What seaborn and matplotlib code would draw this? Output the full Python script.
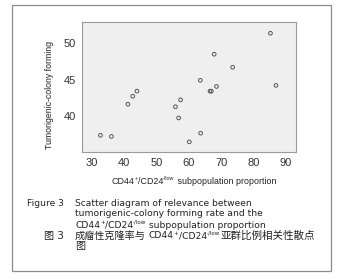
import matplotlib
matplotlib.use("Agg")
import matplotlib.pyplot as plt
import seaborn as sns
import pandas as pd
from matplotlib.patches import Rectangle

# values
proportion = [32.6, 36.0, 41.1, 42.6, 43.9, 55.8, 57.4, 56.8, 60.1, 63.5, 63.6,
              66.5, 66.9, 67.8, 68.5, 73.5, 85.2, 86.9]
colony_rate = [37.3, 37.15, 41.6, 42.7, 43.4, 41.25, 42.2, 39.7, 36.4, 44.9, 37.6,
               43.4, 43.4, 48.5, 44.05, 46.7, 51.4, 44.2]
x_ticks = [30, 40, 50, 60, 70, 80, 90]
y_ticks = [40, 45, 50]

df = pd.DataFrame({"proportion": proportion, "rate": colony_rate})

sns.set_style("white")
plt.rcParams["font.family"] = ["DejaVu Sans", "Noto Sans CJK SC"]

W, H = 337, 279
fig = plt.figure(figsize=(W / 100, H / 100), dpi=100)
fig.patch.set_facecolor("white")

# outer frame
fig.patches.append(Rectangle((12 / W, 1 - 271 / H), (331 - 12) / W, (271 - 5) / H,
                             transform=fig.transFigure, fill=False,
                             edgecolor="#8a8a8a", linewidth=0.9))

ax = fig.add_axes([82 / W, 1 - 152 / H, (296 - 82) / W, (152 - 22) / H])
ax.set_facecolor("#efefef")
sns.scatterplot(data=df, x="proportion", y="rate", ax=ax, marker="o", s=7,
                facecolor="none", edgecolor="#555555", linewidth=0.7)
ax.set_xlim(26.9, 93.1)
ax.set_ylim(35.0, 52.95)
ax.set_xticks(x_ticks)
ax.set_yticks(y_ticks)
ax.tick_params(axis="both", length=3, width=0.6, color="#777777",
               direction="out", pad=1.5, labelcolor="#333333")
for lab in ax.get_xticklabels() + ax.get_yticklabels():
    lab.set_family("Liberation Sans")
    lab.set_fontsize(8)
for s in ax.spines.values():
    s.set_color("#9a9a9a")
    s.set_linewidth(0.8)
ax.set_xlabel("")
ax.set_ylabel("")

fig.text(49 / W, 1 - 95 / H, "Tumorigenic-colony forming", rotation=90,
         ha="center", va="center", fontsize=6.3, color="#222222",
         family="Liberation Sans")

fig.canvas.draw()
rend = fig.canvas.get_renderer()


def run_text(x, y, parts, size, family=("DejaVu Sans", "Noto Sans CJK SC"), draw=True):
    # draw text pieces along one baseline; part = (text, superscript, size factor)
    x0 = x
    for s, sup, k in parts:
        fs = size * k * (0.6 if sup else 1)
        yy = y + (size * 0.42 / 72 * 100) / H if sup else y
        t = fig.text(x, yy, s, fontsize=fs, color="#222222", va="baseline",
                     family=list(family))
        x = t.get_window_extent(rend).x1 / W
        if not draw:
            t.remove()
    return x - x0


def sup_parts(tail="", k=1.0):
    return [("CD44", False, 1), ("+", True, 1), ("/CD24", False, 1),
            ("-/low", True, 1), (tail, False, k)]


# x axis label, centred under the axes
xl = sup_parts(" subpopulation proportion")
wid = run_text(0, 0, xl, 6.4, family=("Liberation Sans",), draw=False)
run_text(194 / W - wid / 2, 1 - 184 / H, xl, 6.4, family=("Liberation Sans",))

cap = 6.6
fig.text(27 / W, 1 - 205.5 / H, "Figure 3", fontsize=cap, color="#222222", va="baseline")
fig.text(75 / W, 1 - 205.5 / H, "Scatter diagram of relevance between", fontsize=cap,
         color="#222222", va="baseline")
fig.text(75 / W, 1 - 216.5 / H, "tumorigenic-colony forming rate and the", fontsize=cap,
         color="#222222", va="baseline")
run_text(75 / W, 1 - 227.5 / H, sup_parts(" subpopulation proportion"), cap)
fig.text(44 / W, 1 - 238.5 / H, "图 3", fontsize=7.3, color="#222222", va="baseline")
run_text(75 / W, 1 - 238.5 / H,
         [("成瘤性克隆率与", False, 1.1), (" ", False, 1)] + sup_parts("亚群比例相关性散点", 1.15),
         cap)
fig.text(75 / W, 1 - 249.5 / H, "图", fontsize=7.3, color="#222222", va="baseline")

fig.savefig("out.png", dpi=100, facecolor="white")
